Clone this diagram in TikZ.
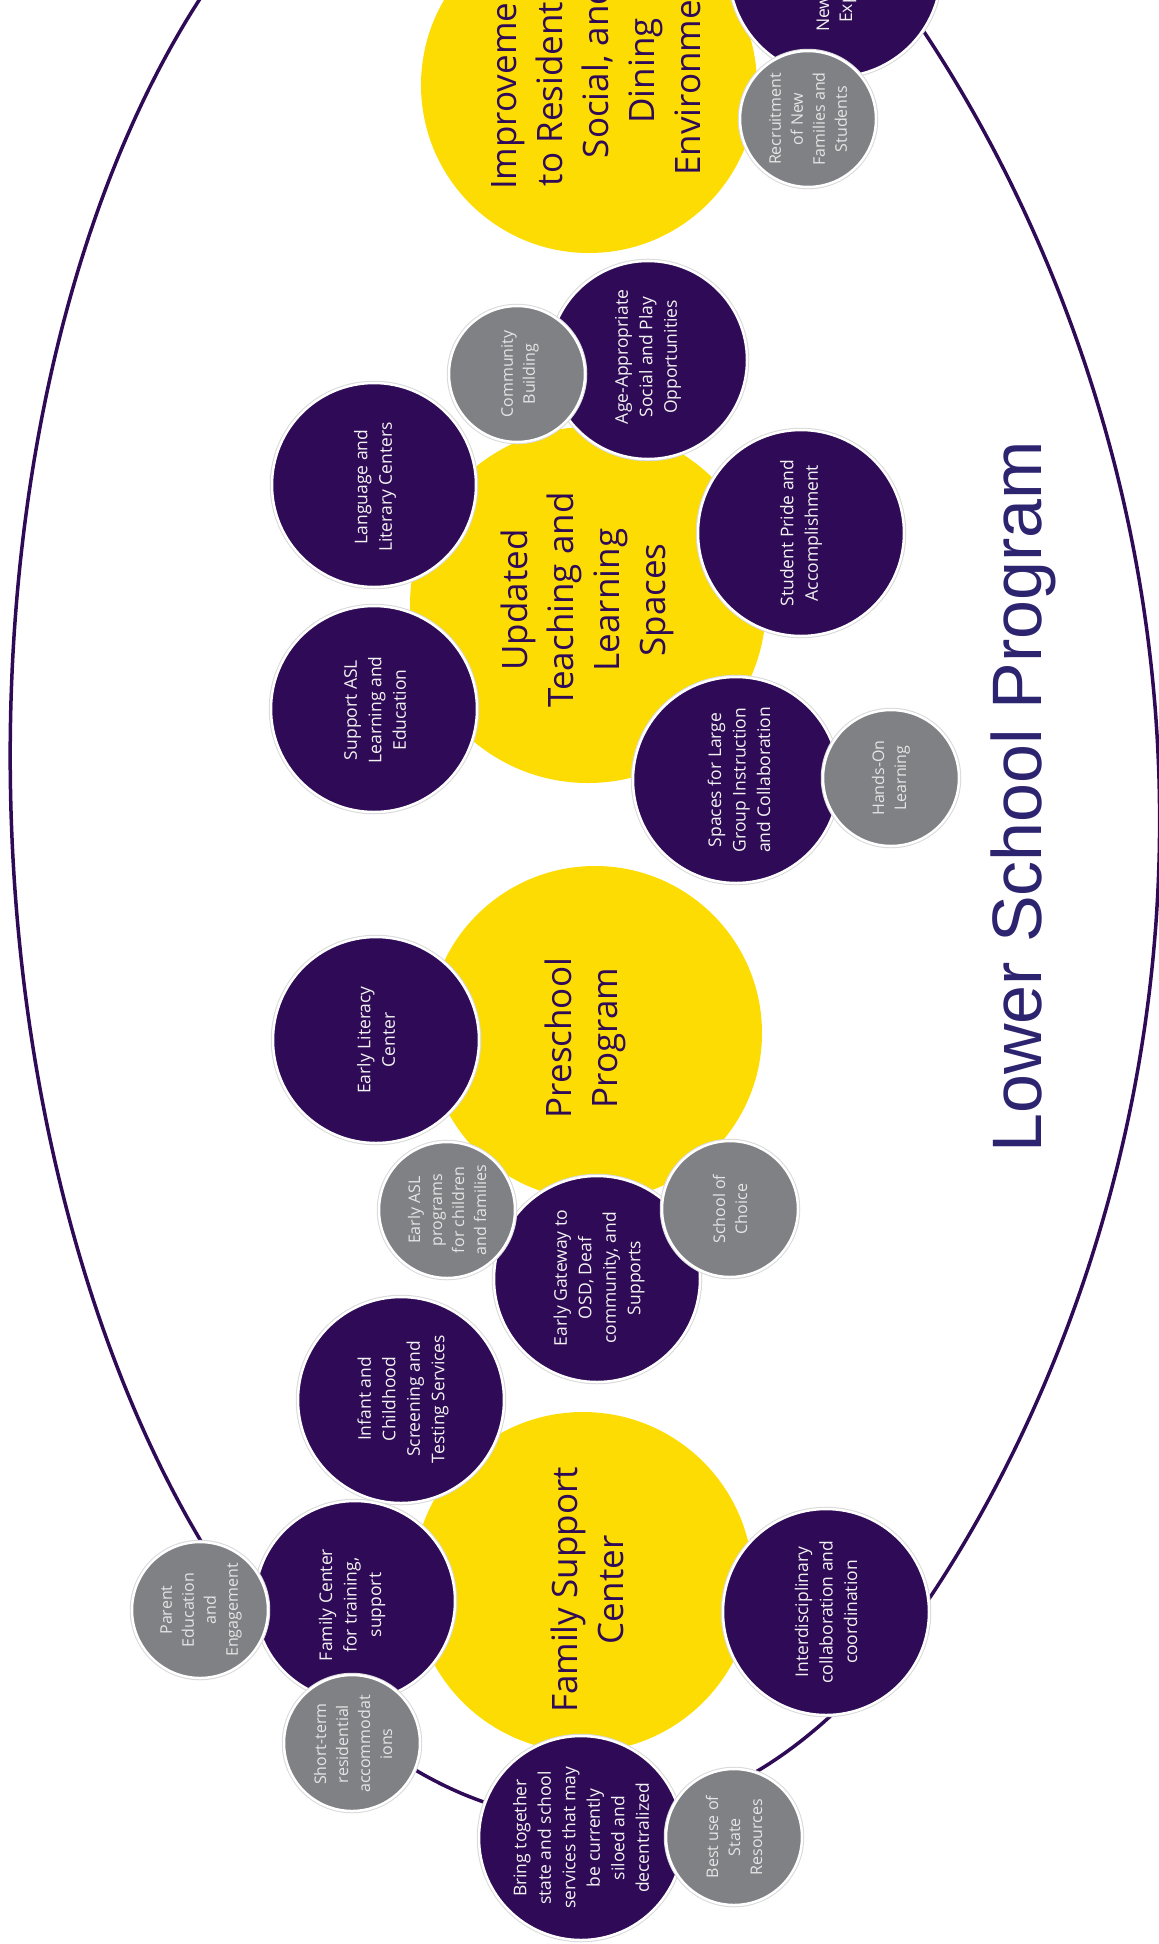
\documentclass[tikz,border=0pt]{standalone}
\usepackage{fontspec}
\setmainfont{Open Sans}
\newfontfamily\lsfont{Liberation Sans}
\definecolor{yel}{HTML}{FCDC03}
\definecolor{pur}{HTML}{2F0B57}
\definecolor{gry}{HTML}{808185}
\definecolor{navy}{HTML}{2D2470}
\begin{document}
\begin{tikzpicture}[x=1pt,y=-1pt,
  ybub/.style={circle, fill=yel, inner sep=0pt, minimum size=#1},
  pbub/.style={circle, fill=pur, draw=white, line width=2.5pt, inner sep=0pt, minimum size=#1, preaction={draw=black!15, line width=4.5pt}},
  gbub/.style={circle, fill=gry, draw=white, line width=2.5pt, inner sep=0pt, minimum size=#1, preaction={draw=black!15, line width=4.5pt}},
  ylab/.style={text=pur, align=center, rotate=90, inner sep=0pt, font=\fontsize{35}{46}\selectfont},
  plab/.style={text=white!95!black, align=center, rotate=90, inner sep=0pt, font=\fontsize{17.5}{24.5}\selectfont},
  glab/.style={text=white!90!black, align=center, rotate=90, inner sep=0pt, font=\fontsize{16}{22}\selectfont},
]
\useasboundingbox (0,0) rectangle (1159,1944);
\clip (0,0) rectangle (1159,1944);

% outer ellipse (slightly fuller on the right)
\draw[pur, line width=3.5pt] plot[domain=0:358, samples=180, smooth cycle]
  ({567+556*cos(\x)+30*sin(\x)+225*max(0,cos(\x)-0.6)*max(0,cos(\x)-0.6)}, {795-16*cos(\x)+1025*sin(\x)});

% yellow main circles
\node[ybub=336pt] (imp) at (589,85) {};
\node[ylab] (impt) at (596,71) {Improvements\\to Residential,\\Social, and\\Dining\\Environment};
\node[ybub=356pt] (upd) at (588,605) {};
\node[ylab] (updt) at (587,600) {Updated\\Teaching and\\Learning\\Spaces};
\node[ybub=334pt] (pre) at (595,1033) {};
\node[ylab] (pret) at (585,1038) {Preschool\\Program};
\node[ybub=340pt] (fam) at (583,1582) {};
\node[ylab] (famt) at (587,1590) {Family Support\\Center};

% purple circles
\node[pbub=212pt] (new) at (835,-29) {};
\node[plab, anchor=west] (newa) at (823,32) {New};
\node[plab, anchor=west] (newb) at (848,23) {Exp};
\node[pbub=204pt] (lang) at (374,485) {};
\node[plab] (langt) at (375,487) {Language and\\Literary Centers};
\node[pbub=198pt] (age) at (648,360) {};
\node[plab] (aget) at (648,357) {Age-Appropriate\\Social and Play\\Opportunities};
\node[pbub=206pt] (pride) at (801,533) {};
\node[plab] (pridet) at (801,533) {Student Pride and\\Accomplishment};
\node[pbub=206pt] (supp) at (374,709) {};
\node[plab] (suppt) at (375,710) {Support ASL\\Learning and\\Education};
\node[pbub=206pt] (spaces) at (736,780) {};
\node[plab] (spacest) at (739,780) {Spaces for Large\\Group Instruction\\and Collaboration};
\node[pbub=206pt] (lit) at (376,1040) {};
\node[plab] (litt) at (376,1040) {Early Literacy\\Center};
\node[pbub=206pt] (gate) at (597,1279) {};
\node[plab] (gatet) at (599,1278) {Early Gateway to\\OSD, Deaf\\community, and\\Supports};
\node[pbub=206pt] (inf) at (401,1400) {};
\node[plab] (inft) at (403,1399) {Infant and\\Childhood\\Screening and\\Testing Services};
\node[pbub=200pt] (famc) at (355,1601) {};
\node[plab] (famct) at (352,1605) {Family Center\\for training,\\support};
\node[pbub=204pt] (bring) at (581,1838) {};
\node[plab] (bringt) at (581,1838) {Bring together\\state and school\\services that may\\be currently\\siloed and\\decentralized};
\node[pbub=206pt] (inter) at (826,1612) {};
\node[plab] (intert) at (826,1612) {Interdisciplinary\\collaboration and\\coordination};

% gray circles
\node[gbub=136pt] (rec) at (808,119) {};
\node[glab] (rect) at (808,119) {Recruitment\\of New\\Families and\\Students};
\node[gbub=136pt] (comm) at (517,374) {};
\node[glab] (commt) at (520,374) {Community\\Building};
\node[gbub=136pt] (hands) at (891,778) {};
\node[glab] (handst) at (891,778) {Hands-On\\Learning};
\node[gbub=136pt] (easl) at (447,1210) {};
\node[glab] (easlt) at (447,1210) {Early ASL\\programs\\for children\\and families};
\node[gbub=136pt] (choice) at (730,1209) {};
\node[glab] (choicet) at (730,1209) {School of\\Choice};
\node[gbub=136pt] (parent) at (200,1610) {};
\node[glab] (parentt) at (201,1610) {Parent\\Education\\and\\Engagement};
\node[gbub=136pt] (short) at (352,1743) {};
\node[glab] (shortt) at (353,1744) {Short-term\\residential\\accommodat\\ions};
\node[gbub=136pt] (best) at (734,1837) {};
\node[glab] (bestt) at (734,1837) {Best use of\\State\\Resources};

% title
\node[font=\lsfont\fontsize{70}{80}\selectfont, text=navy, rotate=90, anchor=base west, inner sep=0pt] (title) at (1041,1153) {Lower School Program};
\end{tikzpicture}
\end{document}
